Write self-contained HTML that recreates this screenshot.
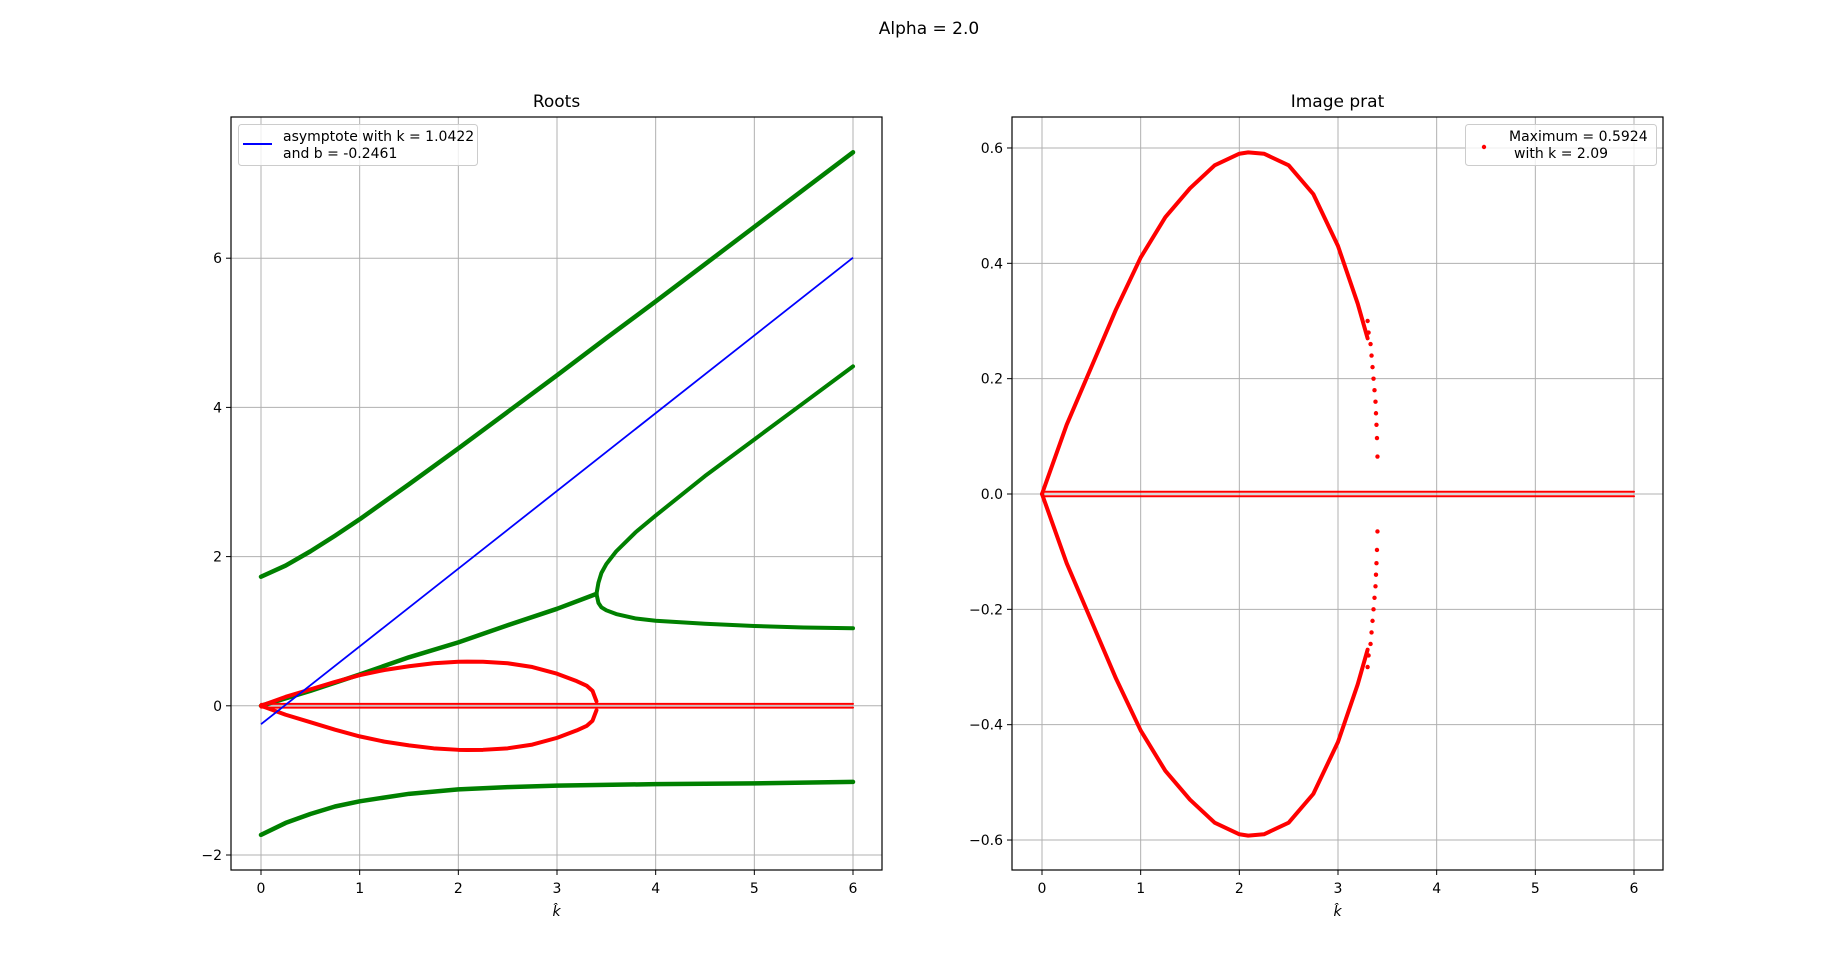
<!DOCTYPE html>
<html><head><meta charset="utf-8"><style>
body{margin:0;background:#fff}
svg{display:block;font-family:"DejaVu Sans","Liberation Sans",sans-serif}
</style></head><body>
<svg id="fig" width="1848" height="977" xmlns="http://www.w3.org/2000/svg">
<rect width="1848" height="977" fill="#fff"/>
<text x="929" y="34" font-size="17" text-anchor="middle">Alpha = 2.0</text>
<g id="left"></g>
<g id="right"></g>
</svg>
<script>
// ---- data ----
const leftXTicks=[0,1,2,3,4,5,6];
const leftYTicks=[-2,0,2,4,6];
const rightXTicks=[0,1,2,3,4,5,6];
const rightYTicks=[-0.6,-0.4,-0.2,0,0.2,0.4,0.6];
const rightYLabels=['\u22120.6','\u22120.4','\u22120.2','0.0','0.2','0.4','0.6'];
const topK=[0,0.25,0.5,0.75,1,1.5,2,2.5,3,3.5,4,4.5,5,5.5,6];
const topV=[1.73,1.88,2.07,2.28,2.5,2.97,3.45,3.94,4.43,4.93,5.42,5.92,6.42,6.92,7.42];
const botK=[0,0.25,0.5,0.75,1,1.5,2,2.5,3,4,5,6];
const botV=[-1.73,-1.57,-1.45,-1.35,-1.28,-1.18,-1.12,-1.09,-1.07,-1.05,-1.04,-1.02];
const midK=[0,0.5,1,1.5,2,2.5,3,3.4];
const midV=[0,0.2,0.42,0.65,0.85,1.08,1.3,1.5];
const upBrK=[3.4,3.42,3.45,3.5,3.6,3.8,4,4.5,5,5.5,6];
const upBrV=[1.5,1.65,1.78,1.9,2.07,2.33,2.55,3.08,3.57,4.06,4.55];
const loBrK=[3.4,3.42,3.45,3.5,3.6,3.8,4,4.5,5,5.5,6];
const loBrV=[1.5,1.38,1.32,1.28,1.23,1.17,1.14,1.1,1.07,1.05,1.04];
const loopK=[0,0.25,0.5,0.75,1,1.25,1.5,1.75,2,2.09,2.25,2.5,2.75,3,3.2,3.3,3.36,3.4];
const loopV=[0,0.12,0.22,0.32,0.41,0.48,0.53,0.57,0.59,0.5924,0.59,0.57,0.52,0.43,0.33,0.27,0.2,0.06];
const tailK=[3.3,3.31,3.33,3.34,3.35,3.36,3.37,3.38,3.385,3.39,3.395,3.4];
const tailV=[0.3,0.28,0.26,0.24,0.22,0.2,0.18,0.16,0.14,0.12,0.097,0.065];
const asymK=[1.0422], asymB=[-0.2461];

const NS='http://www.w3.org/2000/svg';
function mk(parent,tag,attrs){const e=document.createElementNS(NS,tag);for(const k in attrs)e.setAttribute(k,attrs[k]);parent.appendChild(e);return e;}

function axes(g,box,xs,ys,xTicks,yTicks,yLabels,title){
  mk(g,'rect',{x:box.l,y:box.t,width:box.r-box.l,height:box.b-box.t,fill:'#fff'});
  xTicks.forEach(v=>{
    const l=mk(g,'line',{x1:xs(v),x2:xs(v),y1:box.t,y2:box.b,stroke:'#b0b0b0','stroke-width':1});
    
    
    mk(g,'line',{x1:xs(v),x2:xs(v),y1:box.b,y2:box.b+5,stroke:'#000','stroke-width':1});
    const t=mk(g,'text',{x:xs(v),y:box.b+23,'font-size':14,'text-anchor':'middle'});t.textContent=v;
    
    
  });
  yTicks.forEach((v,i)=>{
    const l=mk(g,'line',{x1:box.l,x2:box.r,y1:ys(v),y2:ys(v),stroke:'#b0b0b0','stroke-width':1});
    
    
    mk(g,'line',{x1:box.l-5,x2:box.l,y1:ys(v),y2:ys(v),stroke:'#000','stroke-width':1});
    const t=mk(g,'text',{x:box.l-9,y:ys(v)+5,'font-size':14,'text-anchor':'end'});t.textContent=yLabels[i];
    
    
  });
  const tt=mk(g,'text',{x:(box.l+box.r)/2,y:box.t-10,'font-size':17,'text-anchor':'middle'});tt.textContent=title;
  
  
  const xl=mk(g,'text',{x:(box.l+box.r)/2,y:box.b+46,'font-size':14,'text-anchor':'middle','font-style':'italic'});xl.textContent='k\u0302';
  
  
}
function frame(g,box){mk(g,'rect',{x:box.l,y:box.t,width:box.r-box.l,height:box.b-box.t,fill:'none',stroke:'#000','stroke-width':1.2});}
function line(g,K,V,xs,ys,color,w,name,sign){
  const p=mk(g,'polyline',{points:K.map((k,i)=>xs(k)+','+ys(sign*V[i])).join(' '),fill:'none',stroke:color,'stroke-width':w,'stroke-linejoin':'round','stroke-linecap':'round'});
  
  
  return p;
}

// ---- left ----
const L={l:231,r:882,t:117,b:870};
const lx=k=>261+k*(853-261)/6, ly=v=>855-(v+2)*74.6;
const gl=document.getElementById('left');
axes(gl,L,lx,ly,leftXTicks,leftYTicks,leftYTicks.map(v=>v<0?'\u2212'+(-v):''+v),'Roots');
line(gl,topK,topV,lx,ly,'green',4.5,'green-top-root',1);
line(gl,botK,botV,lx,ly,'green',4.5,'green-bottom-root',1);
line(gl,midK,midV,lx,ly,'green',4.5,'green-middle-root',1);
line(gl,upBrK,upBrV,lx,ly,'green',4,'green-upper-branch',1);
line(gl,loBrK,loBrV,lx,ly,'green',4,'green-lower-branch',1);
line(gl,loopK,loopV,lx,ly,'red',4,'red-loop-upper',1);
line(gl,loopK,loopV,lx,ly,'red',4,'red-loop-lower',-1);
line(gl,[0,6],[0.025,0.025],lx,ly,'red',2,'red-zero-line',1);
line(gl,[0,6],[-0.025,-0.025],lx,ly,'red',2,'red-zero-line-2',1);
const as=mk(gl,'line',{x1:lx(0),y1:ly(asymB[0]),x2:lx(6),y2:ly(asymK[0]*6+asymB[0]),stroke:'blue','stroke-width':1.8});


frame(gl,L);
const lg=mk(gl,'g',{});


mk(lg,'rect',{x:238.5,y:124.5,width:239,height:41,rx:3,fill:'#fff','fill-opacity':0.8,stroke:'#ccc'});
mk(lg,'line',{x1:243,x2:272,y1:144,y2:144,stroke:'blue','stroke-width':2});
let t1=mk(lg,'text',{x:283,y:141,'font-size':14});t1.textContent='asymptote with k = 1.0422';
let t2=mk(lg,'text',{x:283,y:158,'font-size':14});t2.textContent='and b = -0.2461';

// ---- right ----
const R={l:1012,r:1663,t:117,b:870};
const rx=k=>1042+k*(1634-1042)/6, ry=v=>494-v*576.7;
const gr=document.getElementById('right');
axes(gr,R,rx,ry,rightXTicks,rightYTicks,rightYLabels,'Image prat');
line(gr,loopK.slice(0,16),loopV.slice(0,16),rx,ry,'red',4,'imag-upper-curve',1);
line(gr,loopK.slice(0,16),loopV.slice(0,16),rx,ry,'red',4,'imag-lower-curve',-1);
[1,-1].forEach(s=>tailK.forEach((k,i)=>{
  const c=mk(gr,'circle',{cx:rx(k),cy:ry(s*tailV[i]),r:2.2,fill:'red'});
  
  
}));
line(gr,[0,6],[0.004,0.004],rx,ry,'red',2,'imag-zero-line',1);
line(gr,[0,6],[-0.004,-0.004],rx,ry,'red',2,'imag-zero-line-2',1);
frame(gr,R);
const rg=mk(gr,'g',{});


mk(rg,'rect',{x:1465.5,y:124.5,width:191,height:41,rx:3,fill:'#fff','fill-opacity':0.8,stroke:'#ccc'});
mk(rg,'circle',{cx:1484,cy:147,r:2.2,fill:'red'});
let t3=mk(rg,'text',{x:1509,y:141,'font-size':14});t3.textContent='Maximum = 0.5924';
let t4=mk(rg,'text',{x:1514,y:158,'font-size':14});t4.textContent='with k = 2.09';
</script>
</body></html>
